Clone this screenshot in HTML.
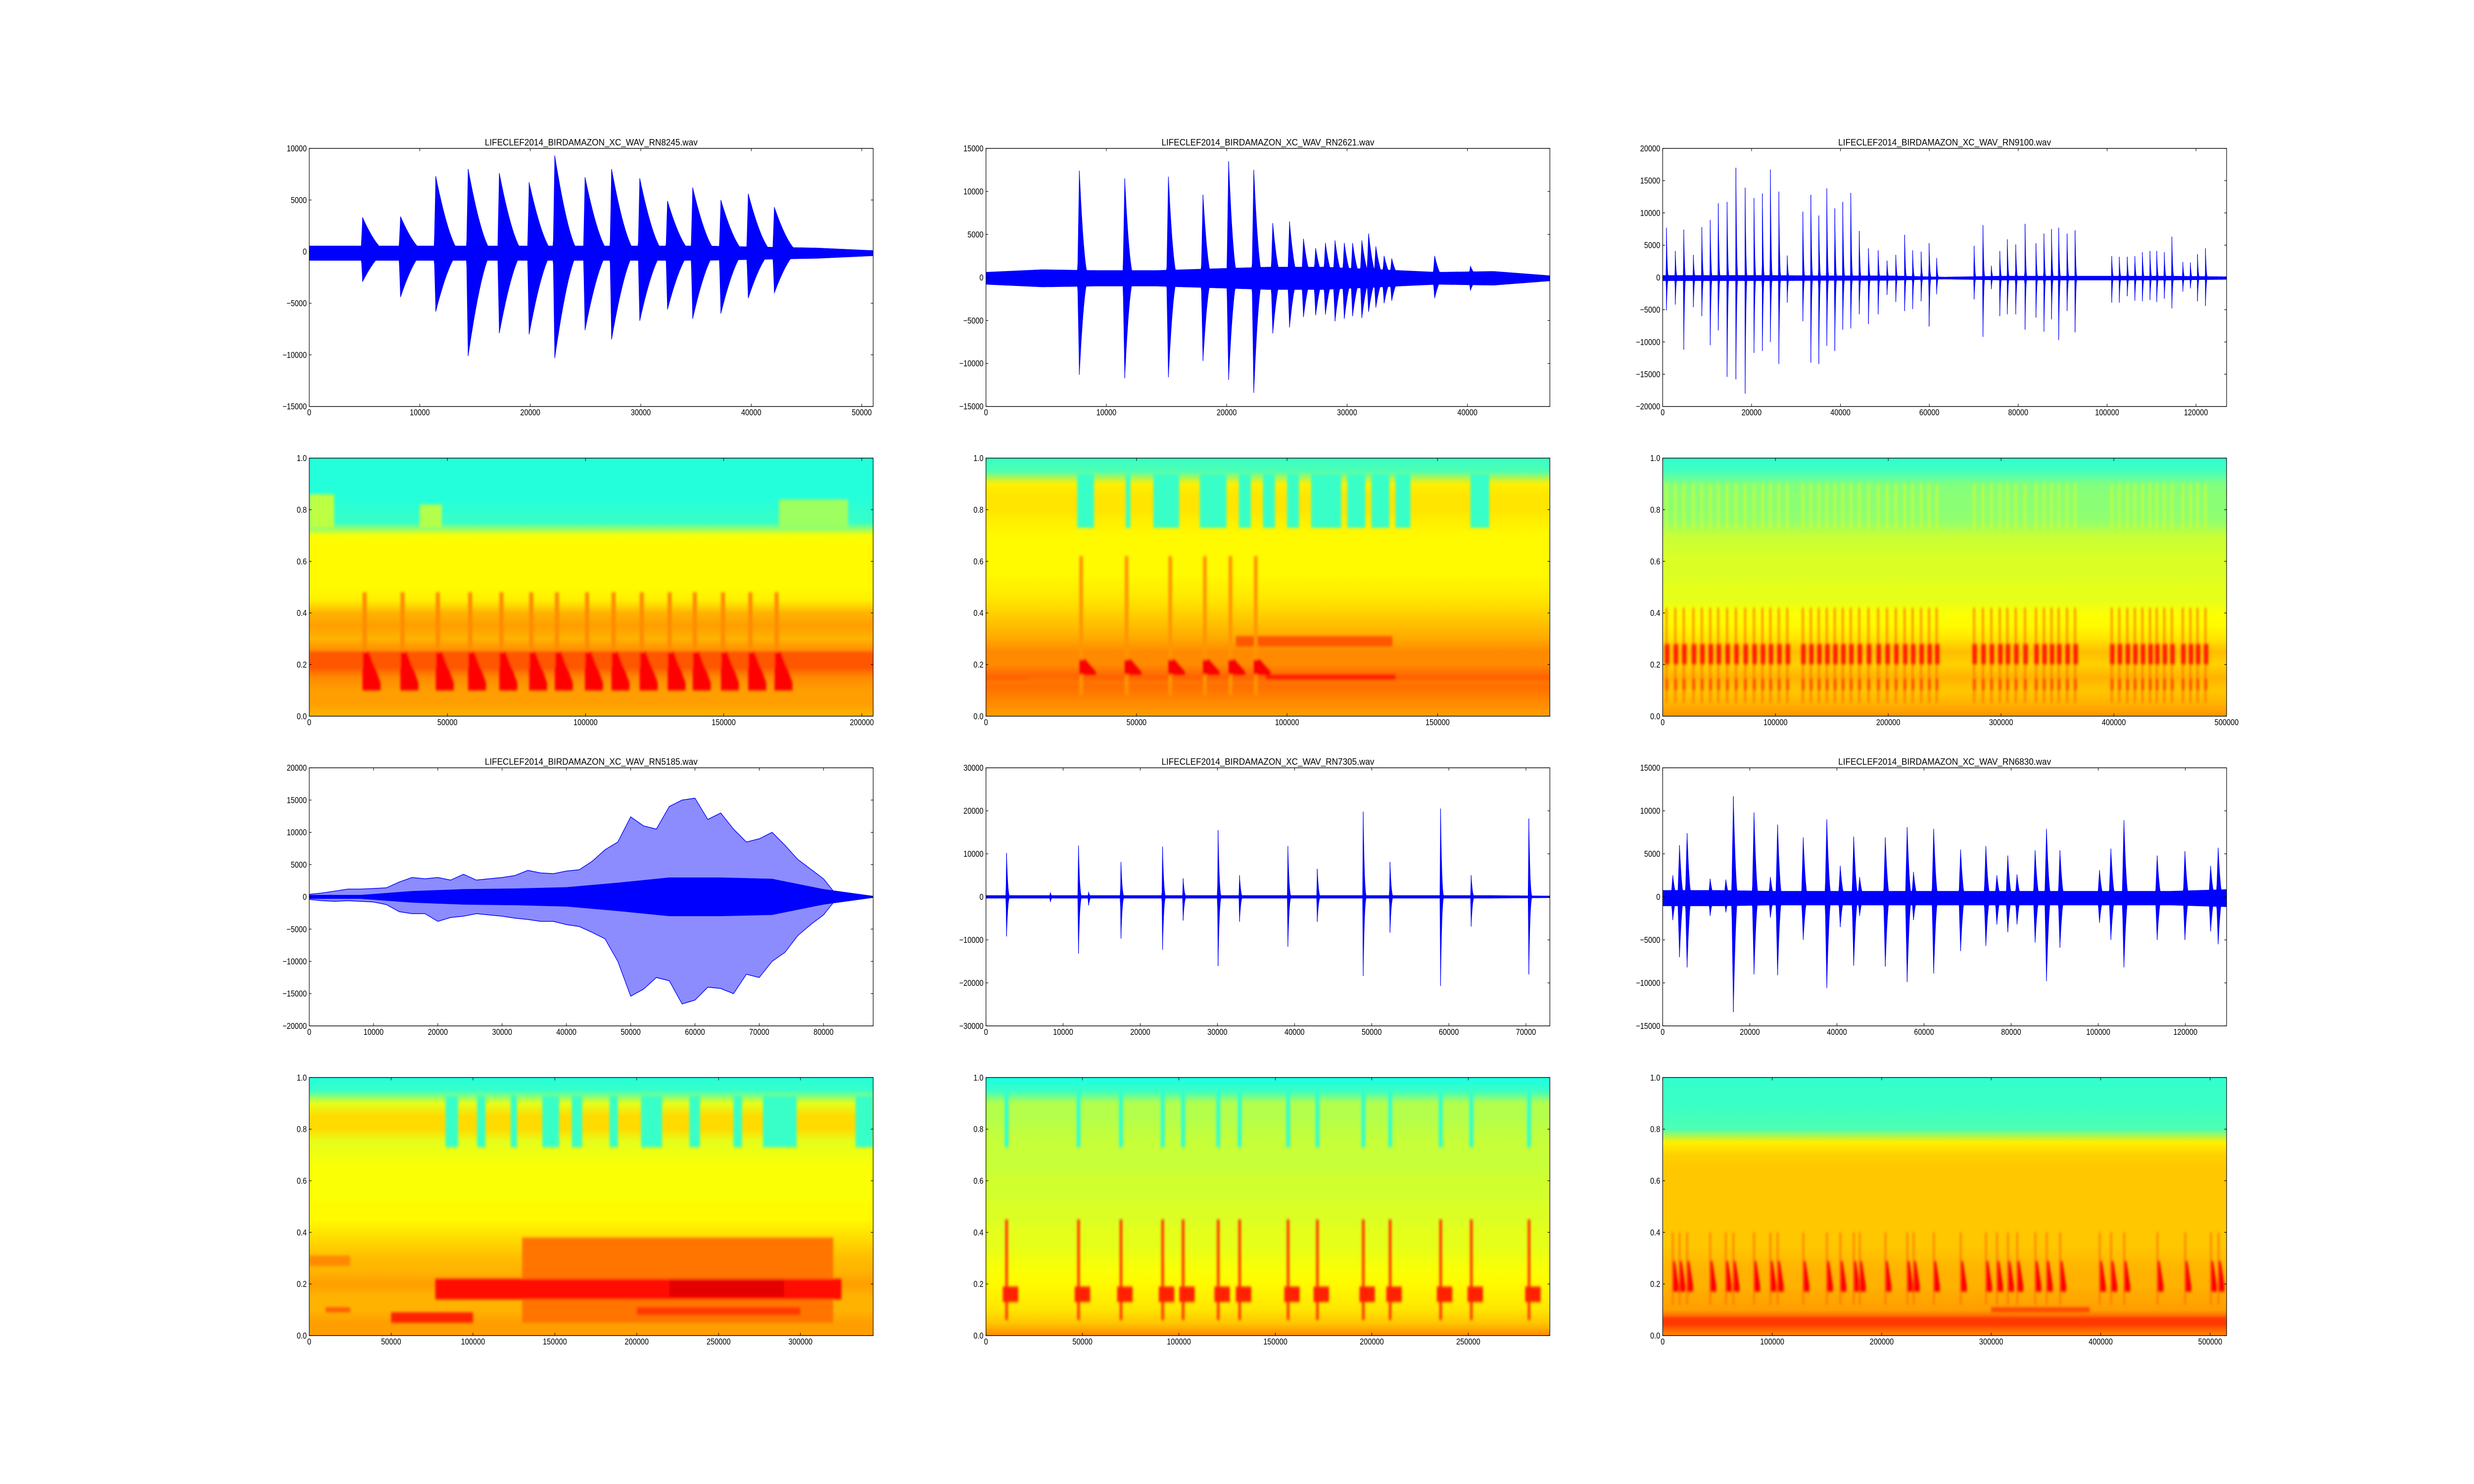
<!DOCTYPE html>
<html><head><meta charset="utf-8"><title>Bird audio waveforms and spectrograms</title>
<style>
html,body{margin:0;padding:0;background:#fff;overflow:hidden;width:100vw;height:100vh;}
svg{display:block;font-family:"Liberation Sans",sans-serif;width:100vw;height:100vh;}
</style></head>
<body>
<svg id="fig" xmlns="http://www.w3.org/2000/svg" viewBox="0 0 6000 3000" preserveAspectRatio="none">
<rect x="0" y="0" width="6000" height="3000" fill="#ffffff"/>
<defs><filter id="soft" x="-20%" y="-20%" width="140%" height="140%"><feGaussianBlur stdDeviation="3"/></filter></defs>
</svg>
<script>
// ---------------- WAVEFORM DATA ----------------
const w1T=[4830,8260,11450,14380,17200,19900,22220,24960,27360,29910,32420,34700,37250,39730,42090];
const w1Pos=[3300,3400,7300,8000,7600,6700,9300,7200,8000,7100,4900,6200,5000,5600,4300];
const w1Neg=[-2900,-4400,-5800,-10100,-7900,-8000,-10300,-7600,-8500,-6700,-5600,-6500,-6000,-4500,-4000];
const w1Noise=[700,700,700,700,700,700,700,700,600,500,250];

const w2T=[7760,11530,15160,18030,20160,22250,23830,25220,26380,27390,28200,29000,29770,30460,31230,31790,32390,33080,33710,37280,40250];
const w2Pos=[12400,11500,11700,9600,13500,12500,6300,6500,4500,3400,4000,4300,4000,4000,4300,5100,3600,2500,2200,2500,1300];
const w2Neg=[-11300,-11700,-11600,-9700,-11900,-13400,-6500,-5800,-4600,-4400,-4300,-5100,-4800,-4500,-4700,-4000,-3500,-3000,-2700,-2400,-1500];
const w2Noise=[700,1000,900,900,1100,1300,1300,1000,700,800,300];

const w3T=[850,2840,4740,6910,8810,10700,12500,14490,16480,18560,20550,22440,24240,26140,28030,31540,33340,35130,36930,38730,40530,42330,44230,46310,48490,50480,52460,54450,56250,58150,59950,61650,70080,72070,73960,75860,77560,79450,81540,84000,85800,87500,89110,91000,92800,101050,102750,104550,106250,107960,109660,111180,112880,114590,117050,118750,120350,122150];
const w3Pos=[7700,4100,7400,3500,7800,8900,11500,11700,17000,13900,12300,13000,16700,13300,3400,10200,12800,9600,13800,10700,11700,13100,7200,4500,4200,2600,3500,6600,4200,4000,5300,3000,4900,8100,1800,4100,5900,5100,8300,5300,6800,7500,7700,6800,7300,3300,3200,3200,3300,3900,4100,4100,3900,6300,2400,2300,3600,4500];
const w3Neg=[-5100,-4200,-11200,-4600,-6000,-10500,-8200,-15400,-15800,-18000,-11700,-11400,-10000,-13400,-3900,-6800,-13200,-13400,-10600,-11400,-8100,-7900,-5700,-7200,-5700,-2700,-3800,-5200,-4900,-3700,-7600,-2600,-3400,-9200,-1800,-6000,-5700,-5700,-8100,-6200,-8400,-6500,-9700,-5200,-8500,-3900,-3900,-2900,-3600,-3700,-3500,-3800,-3300,-4800,-2200,-1700,-3700,-4400];
const w3Noise=[400,400,400,350,350,150,300,300,300,300,200];

// RN5185: dense signal, envelope sampled every 2000 samples
const w4Pos=[400,600,900,1200,1200,1300,1400,2300,3000,2800,3000,2600,3500,2600,2800,3000,3300,4100,3700,3600,4000,4200,5500,7300,8500,12400,11000,10500,14000,15000,15300,12000,13000,10500,8500,9000,10000,8000,5800,4300,2800,300,200,150];
const w4Neg=[-400,-600,-700,-600,-700,-800,-1200,-2300,-2600,-2600,-3800,-3200,-3000,-2600,-2800,-3000,-3300,-3500,-3800,-3800,-4300,-4600,-5500,-6500,-10000,-15400,-14300,-12500,-13000,-16600,-16000,-14000,-14200,-15000,-12000,-12500,-10000,-8600,-6000,-4300,-2800,-300,-200,-150];
const w4Core=[300,300,900,1200,1300,1500,2200,3000,3000,2800,1200,150];

const w5T=[2670,8340,11990,13300,17500,22890,25560,30090,32870,39140,42950,48900,52380,58930,62900,70370];
const w5Pos=[10200,1000,11900,1100,8100,11700,4300,15500,5000,11800,6500,19800,8100,20500,5000,18200];
const w5Neg=[-9200,-1200,-13200,-2000,-9700,-12300,-5500,-16100,-5800,-11600,-5800,-18400,-8300,-20700,-6900,-18000];
const w5Noise=[300,300,300,300,300,300,300,300,300,300,200];

const w6T=[2320,3860,5600,10900,14500,16230,20970,24730,26380,32270,37680,40770,43860,45220,51110,56130,57590,62220,68400,74200,76720,79230,81350,85510,88120,91210,100290,102900,105900,113530,119900,125800,127540];
const w6Pos=[2500,6000,7400,2100,2000,11700,9800,2300,8400,6900,9000,3600,7000,2300,6900,8100,2900,7900,5500,5900,2500,4800,2600,5400,7900,5400,3100,5600,8900,4800,5300,3600,5700];
const w6Neg=[-2700,-7000,-8200,-2200,-1800,-13400,-9000,-2400,-9100,-5000,-10600,-3500,-8000,-2200,-8100,-9900,-2700,-8900,-6300,-5700,-3200,-4100,-3200,-5300,-9800,-5900,-3000,-5000,-8200,-5000,-5000,-4000,-5500];
const w6Noise=[900,900,800,800,800,800,800,800,800,800,1000];

// ---------------- SPECTROGRAM DATA ----------------
const profFreq=[0,0.05,0.1,0.15,0.2,0.25,0.3,0.35,0.4,0.45,0.5,0.55,0.6,0.65,0.7,0.75,0.8,0.85,0.9,0.95,1.0];
const s1Prof=[0.70,0.72,0.72,0.74,0.80,0.74,0.70,0.72,0.70,0.64,0.63,0.63,0.63,0.63,0.62,0.43,0.42,0.41,0.41,0.41,0.41];
const s2Prof=[0.72,0.74,0.76,0.78,0.74,0.74,0.71,0.69,0.67,0.65,0.64,0.63,0.63,0.63,0.63,0.64,0.65,0.65,0.64,0.45,0.43];
const s3Prof=[0.73,0.70,0.68,0.70,0.67,0.69,0.65,0.63,0.62,0.60,0.60,0.59,0.59,0.58,0.57,0.52,0.51,0.51,0.50,0.44,0.42];
const s4Prof=[0.72,0.72,0.70,0.70,0.72,0.70,0.69,0.67,0.65,0.63,0.63,0.62,0.62,0.62,0.61,0.60,0.66,0.66,0.60,0.43,0.41];
const s5Prof=[0.74,0.68,0.65,0.64,0.63,0.62,0.61,0.60,0.60,0.59,0.59,0.58,0.58,0.57,0.57,0.57,0.56,0.55,0.55,0.43,0.40];
const s6Prof=[0.74,0.82,0.72,0.71,0.70,0.70,0.69,0.68,0.68,0.68,0.68,0.68,0.68,0.68,0.67,0.64,0.45,0.44,0.43,0.43,0.42];

const s2GapStart=[30300,46400,55600,71000,84000,92000,100000,108000,120000,128000,136000,160900];
const s2GapEnd=[35900,48000,64200,79900,88000,96000,104000,118000,126000,134000,141000,167200];
const s4GapStart=[83200,102500,123000,142300,160300,183400,202600,232200,259100,277100,333600];
const s4GapEnd=[90900,107600,126900,152600,166700,188500,215500,238600,264300,297700,344400];

const s1CallT=[19300,33000,45800,57500,68800,79600,88900,99800,109400,119600,129700,138800,149000,158900,168400];
const s2CallT=[31000,46100,60600,72100,80600,89000];
const s5CallT=[10700,48000,70000,91600,102200,120400,131500,156600,171800,195600,209500,235700,251600,281500];

const s1PStart=[0,40000,170000,0];
const s1PEnd=[9000,48000,195000,204100];
const s1PLo=[0.73,0.73,0.73,0.19];
const s1PHi=[0.86,0.82,0.84,0.25];
const s1PLev=[0.56,0.55,0.53,0.79];

const s2PStart=[83000,93000,14000,0];
const s2PEnd=[135000,136000,30000,187300];
const s2PLo=[0.27,0.12,0.14,0.12];
const s2PHi=[0.31,0.16,0.16,0.14];
const s2PLev=[0.79,0.85,0.77,0.76];

const s4PStart=[130000,77000,220000,50000,200000,0,10000];
const s4PEnd=[320000,325000,290000,100000,300000,25000,25000];
const s4PLo=[0.05,0.14,0.15,0.05,0.08,0.27,0.09];
const s4PHi=[0.38,0.22,0.22,0.09,0.11,0.31,0.11];
const s4PLev=[0.76,0.86,0.90,0.84,0.82,0.74,0.78];

const s6PStart=[0,300000];
const s6PEnd=[515000,390000];
const s6PLo=[0.04,0.09];
const s6PHi=[0.07,0.11];
const s6PLev=[0.82,0.80];

// ---------------- HELPERS ----------------
const NS='http://www.w3.org/2000/svg';
const svg=document.getElementById('fig');
const defs=svg.querySelector('defs');
function mk(tag,attrs,parent){const e=document.createElementNS(NS,tag);for(const k in attrs)e.setAttribute(k,attrs[k]);(parent||svg).appendChild(e);return e;}
function clip01(v){return Math.max(0,Math.min(1,v));}
function jet(v){const r=clip01(1.5-Math.abs(4*v-3)),g=clip01(1.5-Math.abs(4*v-2)),b=clip01(1.5-Math.abs(4*v-1));return 'rgb('+Math.round(r*255)+','+Math.round(g*255)+','+Math.round(b*255)+')';}
function fmt(v,dec){let s=dec?v.toFixed(1):String(Math.round(Math.abs(v)));if(!dec&&v<0)s='\u2212'+s;return s;}

const colX=[750,2391.2,4032.4], rowY=[300,926.1,1552.2,2178.3], AW=1367.6, AH=521.7;

function makeAxes(name,col,row,xmax,ymin,ymax,xstep,ystep,dec,title){
  const x0=colX[col],y0=rowY[row];
  const g=mk('g',{});
  
  
  const sx=v=>x0+v/xmax*AW, sy=v=>y0+AH-(v-ymin)/(ymax-ymin)*AH;
  const cp=mk('clipPath',{id:'clip-'+name},defs);
  mk('rect',{x:x0,y:y0,width:AW,height:AH},cp);
  const plot=mk('g',{'clip-path':'url(#clip-'+name+')'},g);
  
  
  return {g,plot,sx,sy,x0,y0,xmax,ymin,ymax,xstep,ystep,dec,title,name};
}
function finishAxes(A){
  const {g,sx,sy,x0,y0}=A;
  const ticks=mk('g',{stroke:'#000','stroke-width':1.2},g);
  
  
  const labs=mk('g',{'font-size':'17.5px',fill:'#000'},g);
  
  
  for(let v=0;v<=A.xmax+1e-6;v+=A.xstep){
    const x=sx(v);
    mk('line',{x1:x,y1:y0+AH,x2:x,y2:y0+AH-5.6},ticks);
    mk('line',{x1:x,y1:y0,x2:x,y2:y0+5.6},ticks);
    const t=mk('text',{x:x,y:y0+AH+18,'text-anchor':'middle'},labs);
    
    
    t.textContent=fmt(v,false);
  }
  const n=Math.round((A.ymax-A.ymin)/A.ystep);
  for(let i=0;i<=n;i++){
    const v=A.ymin+i*A.ystep,y=sy(v);
    mk('line',{x1:x0,y1:y,x2:x0+5.6,y2:y},ticks);
    mk('line',{x1:x0+AW,y1:y,x2:x0+AW-5.6,y2:y},ticks);
    const t=mk('text',{x:x0-6,y:y+6,'text-anchor':'end'},labs);
    
    
    t.textContent=fmt(v,A.dec);
  }
  const fr=mk('rect',{x:x0,y:y0,width:AW,height:AH,fill:'none',stroke:'#000','stroke-width':1.4},g);
  
  
  if(A.title){
    const t=mk('text',{x:x0+AW/2,y:y0-6,'text-anchor':'middle','font-size':'18.5px',fill:'#000',textLength:516,lengthAdjust:'spacingAndGlyphs'},g);
    
    
    t.textContent=A.title;
  }
}

function noiseAt(noise,t,xmax){const p=t/xmax*(noise.length-1);const i=Math.min(noise.length-2,Math.floor(p));const f=p-i;return noise[i]*(1-f)+noise[i+1]*f;}
function drawEvents(A,T,P,N,noise,rise,decay,ex,offset){
  const pts=[];const steps=1400;
  for(let i=0;i<=steps;i++)pts.push(A.xmax*i/steps);
  T.forEach(t=>{pts.push(t);pts.push(t+decay*0.05);});
  pts.sort((a,b)=>a-b);
  const top=[],bot=[];
  pts.forEach(t=>{
    const nz=noiseAt(noise,Math.min(t,A.xmax),A.xmax);
    let hi=offset+nz,lo=offset-nz;
    for(let k=0;k<T.length;k++){
      const u=t-T[k];let s=0;
      if(u>=-rise&&u<0)s=1+u/rise;else if(u>=0&&u<decay)s=Math.pow(1-u/decay,ex);
      if(s>0){hi=Math.max(hi,P[k]*s);lo=Math.min(lo,N[k]*s);}
    }
    top.push(A.sx(t).toFixed(1)+','+A.sy(hi).toFixed(1));
    bot.push(A.sx(t).toFixed(1)+','+A.sy(lo).toFixed(1));
  });
  const poly=mk('polygon',{points:top.concat(bot.reverse()).join(' '),fill:'#0000ff',stroke:'#0000ff','stroke-width':1},A.plot);
  
  
  const sp=mk('g',{stroke:'#0000ff','stroke-width':1.5},A.plot);
  
  
  for(let k=0;k<T.length;k++){
    const l=mk('line',{x1:A.sx(T[k]),x2:A.sx(T[k]),y1:A.sy(P[k]),y2:A.sy(N[k])},sp);
    
    
  }
}

function drawSpec(A,prof,id){
  const gr=mk('linearGradient',{id:'grad-'+id,x1:0,y1:1,x2:0,y2:0},defs);
  for(let i=0;i<profFreq.length;i++)mk('stop',{offset:profFreq[i],'stop-color':jet(prof[i])},gr);
  const bg=mk('rect',{x:A.x0,y:A.y0,width:AW,height:AH,fill:'url(#grad-'+id+')'},A.plot);
  
  
  const layer=mk('g',{filter:'url(#soft)'},A.plot);
  
  
  return layer;
}
function patch(A,layer,t0,t1,f0,f1,lev,name){
  const x=A.sx(Math.max(0,t0)),x2=A.sx(Math.min(A.xmax,t1)),y=A.sy(f1),y2=A.sy(f0);
  const r=mk('rect',{x:x,y:y,width:Math.max(1,x2-x),height:Math.max(1,y2-y),fill:jet(lev)},layer);
  
  
}
function patches(A,layer,S,E,L,H,V){for(let i=0;i<S.length;i++)patch(A,layer,S[i],E[i],L[i],H[i],V[i],'energy-patch');}
function gaps(A,layer,S,E,lo,hi,lev){for(let i=0;i<S.length;i++)patch(A,layer,S[i],E[i],lo,hi,lev,'upper-band-gap');}
function wedge(A,layer,t,w,f0,f1,lev){
  const p=[[t,f0],[t,f1],[t+w*0.35,f1],[t+w,f0+(f1-f0)*0.2],[t+w,f0]].map(q=>A.sx(q[0]).toFixed(1)+','+A.sy(q[1]).toFixed(1)).join(' ');
  const e=mk('polygon',{points:p,fill:jet(lev)},layer);
  
  
}

const PRE='LIFECLEF2014_BIRDAMAZON_XC_WAV_';
let A;
A=makeAxes('waveform-rn8245',0,0,51030,-15000,10000,10000,5000,false,PRE+'RN8245.wav');
drawEvents(A,w1T,w1Pos,w1Neg,w1Noise,150,2200,1.6,-150);finishAxes(A);

A=makeAxes('waveform-rn2621',1,0,46850,-15000,15000,10000,5000,false,PRE+'RN2621.wav');
drawEvents(A,w2T,w2Pos,w2Neg,w2Noise,150,800,2,-100);finishAxes(A);

A=makeAxes('waveform-rn9100',2,0,126900,-20000,20000,20000,5000,false,PRE+'RN9100.wav');
drawEvents(A,w3T,w3Pos,w3Neg,w3Noise,60,550,3,-100);finishAxes(A);

A=makeAxes('waveform-rn5185',0,2,87720,-20000,20000,10000,5000,false,PRE+'RN5185.wav');
(function(){
  const top=[],bot=[],ct=[],cb=[];
  for(let i=0;i<w4Pos.length;i++){const t=i*2000;top.push(A.sx(t)+','+A.sy(w4Pos[i]));bot.push(A.sx(t)+','+A.sy(w4Neg[i]));}
  const env=mk('polygon',{points:top.concat(bot.reverse()).join(' '),fill:'#0000ff','fill-opacity':0.45,stroke:'#0000ff','stroke-width':1.5},A.plot);
  
  
  for(let i=0;i<w4Core.length;i++){const t=Math.min(A.xmax,i*8000);ct.push(A.sx(t)+','+A.sy(w4Core[i]));cb.push(A.sx(t)+','+A.sy(-w4Core[i]));}
  const core=mk('polygon',{points:ct.concat(cb.reverse()).join(' '),fill:'#0000ff'},A.plot);
  
  
})();
finishAxes(A);

A=makeAxes('waveform-rn7305',1,2,73100,-30000,30000,10000,10000,false,PRE+'RN7305.wav');
drawEvents(A,w5T,w5Pos,w5Neg,w5Noise,80,500,3,0);finishAxes(A);

A=makeAxes('waveform-rn6830',2,2,129470,-15000,15000,20000,5000,false,PRE+'RN6830.wav');
drawEvents(A,w6T,w6Pos,w6Neg,w6Noise,400,1100,2,-150);finishAxes(A);

let L;
A=makeAxes('spectrogram-rn8245',0,1,204100,0,1,50000,0.2,true,null);
L=drawSpec(A,s1Prof,'s1');
patches(A,L,s1PStart,s1PEnd,s1PLo,s1PHi,s1PLev);
s1CallT.forEach(t=>{patch(A,L,t,t+1500,0.1,0.48,0.74,'call-stripe');wedge(A,L,t,6500,0.1,0.25,0.87);});
finishAxes(A);

A=makeAxes('spectrogram-rn2621',1,1,187300,0,1,50000,0.2,true,null);
L=drawSpec(A,s2Prof,'s2');
gaps(A,L,s2GapStart,s2GapEnd,0.73,0.94,0.43);
patches(A,L,s2PStart,s2PEnd,s2PLo,s2PHi,s2PLev);
s2CallT.forEach(t=>{patch(A,L,t,t+1200,0.08,0.62,0.73,'call-stripe');wedge(A,L,t,5500,0.16,0.22,0.88);});
finishAxes(A);

A=makeAxes('spectrogram-rn9100',2,1,500000,0,1,100000,0.2,true,null);
L=drawSpec(A,s3Prof,'s3');
w3T.forEach(t=>{const s=t*3.94;patch(A,L,s-700,s+700,0.05,0.42,0.76,'call-stripe');patch(A,L,s-1500,s+2500,0.2,0.28,0.85,'call-blob');patch(A,L,s-1000,s+1500,0.1,0.145,0.8,'call-blob');patch(A,L,s-800,s+800,0.72,0.9,0.58,'call-stripe-upper');});
finishAxes(A);

A=makeAxes('spectrogram-rn5185',0,3,344400,0,1,50000,0.2,true,null);
L=drawSpec(A,s4Prof,'s4');
gaps(A,L,s4GapStart,s4GapEnd,0.73,0.93,0.43);
patches(A,L,s4PStart,s4PEnd,s4PLo,s4PHi,s4PLev);
finishAxes(A);

A=makeAxes('spectrogram-rn7305',1,3,292300,0,1,50000,0.2,true,null);
L=drawSpec(A,s5Prof,'s5');
s5CallT.forEach(t=>{patch(A,L,t-1000,t+1000,0.73,0.95,0.42,'call-drip');patch(A,L,t-700,t+700,0.06,0.45,0.82,'call-stripe');patch(A,L,t-2000,t+6000,0.13,0.19,0.84,'call-blob');});
finishAxes(A);

A=makeAxes('spectrogram-rn6830',2,3,515000,0,1,100000,0.2,true,null);
L=drawSpec(A,s6Prof,'s6');
patches(A,L,s6PStart,s6PEnd,s6PLo,s6PHi,s6PLev);
w6T.forEach(t=>{const s=t*3.98;patch(A,L,s-600,s+600,0.12,0.4,0.77,'call-stripe');wedge(A,L,s,5500,0.17,0.29,0.87);});
finishAxes(A);
</script>
</body></html>
